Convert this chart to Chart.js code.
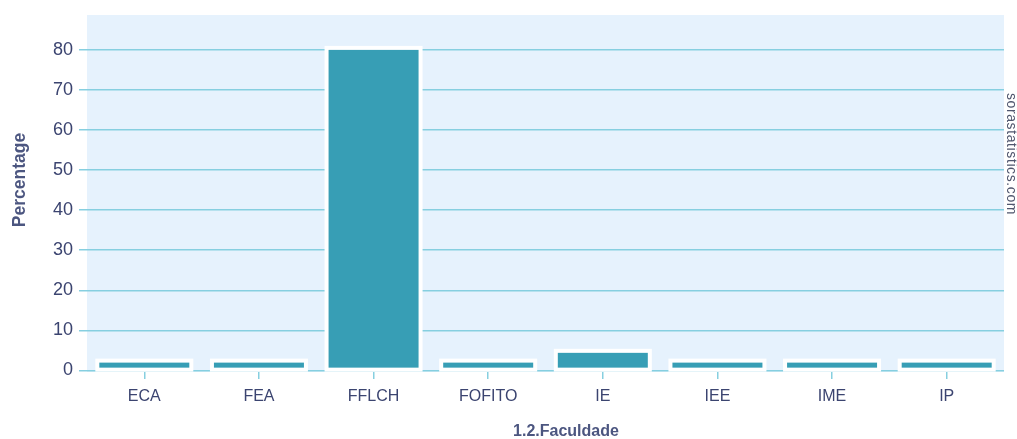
<!DOCTYPE html>
<html>
<head>
<meta charset="utf-8">
<script src="https://cdn.jsdelivr.net/npm/chart.js@4"></script>
<style>
  html, body { margin: 0; padding: 0; background: #ffffff; }
  #wrap { width: 1017px; height: 439px; position: relative; }
</style>
</head>
<body>
<div id="wrap"><canvas id="facChart" width="1017" height="439"></canvas></div>
<script>
const faculdades = ['ECA', 'FEA', 'FFLCH', 'FOFITO', 'IE', 'IEE', 'IME', 'IP'];
const percentages = [2.44, 2.44, 80.49, 2.44, 4.88, 2.44, 2.44, 2.44];
const yTicks = [0, 10, 20, 30, 40, 50, 60, 70, 80];

const textColor = '#3b4470';
const titleColor = '#4c5680';
const gridColor = '#86cfe0';
const fontFamily = '"Liberation Sans", Arial, sans-serif';

// plot background, white bar outlines, titles and watermark
const decor = {
    id: 'decor',
    beforeDraw(chart) {
        const { ctx, chartArea } = chart;
        ctx.save();
        ctx.fillStyle = '#e6f2fd';
        ctx.fillRect(chartArea.left, chartArea.top, chartArea.right - chartArea.left, chartArea.bottom - chartArea.top);
        ctx.restore();
    },
    afterDatasetsDraw(chart) {
        // outline centered on the bar edge, like plotly's marker line
        const ctx = chart.ctx;
        ctx.save();
        ctx.strokeStyle = '#ffffff';
        ctx.lineWidth = 4;
        chart.getDatasetMeta(0).data.forEach(bar => {
            const p = bar.getProps(['x', 'y', 'base', 'width'], true);
            ctx.strokeRect(p.x - p.width / 2, p.y, p.width, p.base - p.y);
        });
        ctx.restore();
    },
    afterDraw(chart) {
        const ctx = chart.ctx;
        ctx.save();
        ctx.fillStyle = titleColor;
        ctx.textAlign = 'center';
        ctx.textBaseline = 'middle';
        ctx.font = 'bold 16px ' + fontFamily;
        ctx.fillText('1.2.Faculdade', 566, 432);
        ctx.save();
        ctx.translate(20, 180);
        ctx.rotate(-Math.PI / 2);
        ctx.font = 'bold 17.5px ' + fontFamily;
        ctx.fillText('Percentage', 0, 0);
        ctx.restore();
        ctx.translate(1011, 154);
        ctx.rotate(Math.PI / 2);
        ctx.font = '14px ' + fontFamily;
        ctx.fillStyle = '#50566e';
        if ('letterSpacing' in ctx) ctx.letterSpacing = '0.6px';
        ctx.fillText('sorastatistics.com', 0, 0);
        ctx.restore();
    }
};

new Chart(document.getElementById('facChart'), {
    type: 'bar',
    data: {
        labels: faculdades,
        datasets: [{
            data: percentages,
            backgroundColor: '#379eb5',
            borderWidth: 0,
            barPercentage: 0.82,
            categoryPercentage: 1
        }]
    },
    options: {
        responsive: false,
        animation: false,
        layout: { padding: { top: 15, right: 13, left: 0, bottom: 0 } },
        plugins: { legend: { display: false }, tooltip: { enabled: false } },
        scales: {
            x: {
                grid: { offset: false, drawOnChartArea: false, drawTicks: true, tickLength: 7, color: gridColor, lineWidth: 1.5 },
                border: { display: false },
                ticks: { autoSkip: false, maxRotation: 0, color: textColor, font: { family: fontFamily, size: 16 }, padding: 8 },
                afterFit(scale) { scale.height = 67; scale.paddingLeft = 0; scale.paddingRight = 0; }
            },
            y: {
                min: -0.4,
                max: 88.7,
                afterBuildTicks(scale) { scale.ticks = yTicks.map(v => ({ value: v })); },
                grid: { color: gridColor, lineWidth: 1.5, tickLength: 8 },
                border: { display: false },
                ticks: { autoSkip: false, color: textColor, font: { family: fontFamily, size: 18 }, padding: 6 },
                afterFit(scale) { scale.width = 87; scale.paddingTop = 0; scale.paddingBottom = 0; }
            }
        }
    },
    plugins: [decor]
});
</script>
</body>
</html>
